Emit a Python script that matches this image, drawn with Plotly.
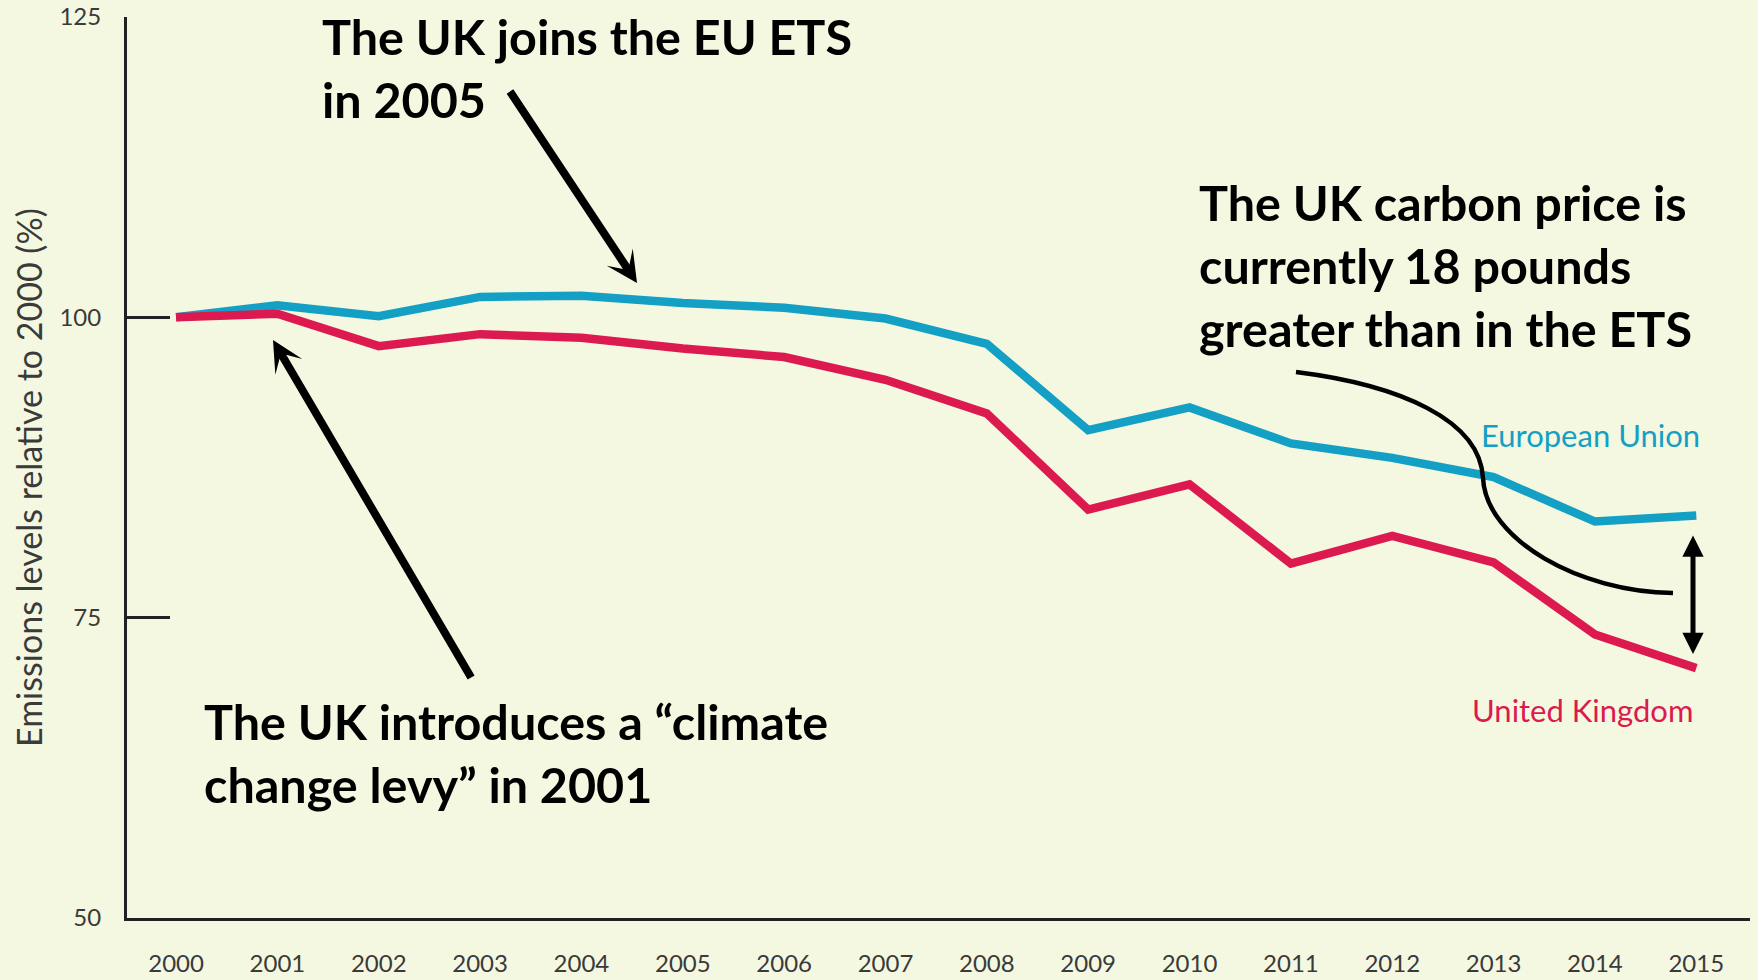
import plotly.graph_objects as go

years = list(range(2000, 2016))
eu_values = [100, 101.0, 100.1, 101.7, 101.8, 101.2, 100.8, 99.9, 97.8, 90.6, 92.5, 89.5, 88.3, 86.7, 83.0, 83.5]
uk_values = [100, 100.3, 97.6, 98.6, 98.3, 97.4, 96.7, 94.8, 92.0, 84.0, 86.1, 79.5, 81.8, 79.6, 73.6, 70.8]
y_ticks = [50, 75, 100, 125]
x_tick_labels = [str(y) for y in years]

BG = "#F4F8E1"
BLUE = "#14A0C4"
RED = "#DC1A4F"
AX = "#222222"

W, H = 1758, 980
L, R, T, B = 127, 8, 17, 62
X0, X1 = 1999.516, 2015.53
Y0, Y1 = 50, 125


def px2x(px):
    return X0 + (px - L) / (W - L - R) * (X1 - X0)


def px2y(py):
    return Y1 - (py - T) / (H - T - B) * (Y1 - Y0)


def px2paperx(px):
    return (px - L) / (W - L - R)


def px2papery(py):
    return (H - B - py) / (H - T - B)


fig = go.Figure()
fig.add_trace(go.Scatter(x=years, y=eu_values, mode="lines", name="European Union",
                         line=dict(color=BLUE, width=8.5), showlegend=False, hoverinfo="skip"))
fig.add_trace(go.Scatter(x=years, y=uk_values, mode="lines", name="United Kingdom",
                         line=dict(color=RED, width=8.5), showlegend=False, hoverinfo="skip"))

big = dict(family="Lato", size=48.5, color="black", weight=700)
ann = []
ann.append(dict(x=px2x(320), y=px2y(67), xref="x", yref="y", xanchor="left", yanchor="middle",
                text="The UK joins the EU ETS<br>in 2005", showarrow=False, align="left", font=big))
ann.append(dict(x=px2x(202), y=px2y(752), xref="x", yref="y", xanchor="left", yanchor="middle",
                text="The UK introduces a \u201cclimate<br>change levy\u201d in 2001", showarrow=False,
                align="left", font=big))
ann.append(dict(x=px2x(1197), y=px2y(265), xref="x", yref="y", xanchor="left", yanchor="middle",
                text="The UK carbon price is<br>currently 18 pounds<br>greater than in the ETS",
                showarrow=False, align="left", font=big))
ann.append(dict(x=px2x(1479), y=px2y(435), xref="x", yref="y", xanchor="left", yanchor="middle",
                text="European Union", showarrow=False, font=dict(family="Lato", size=31, color=BLUE)))
ann.append(dict(x=px2x(1470), y=px2y(710), xref="x", yref="y", xanchor="left", yanchor="middle",
                text="United Kingdom", showarrow=False, font=dict(family="Lato", size=31, color=RED)))
ann.append(dict(x=px2paperx(28), y=px2papery(478), xref="paper", yref="paper", xanchor="center",
                yanchor="middle", text="Emissions levels relative to 2000 (%)", textangle=-90,
                showarrow=False, font=dict(family="Lato", size=34, color="#3a3a3a")))

# arrows
ann.append(dict(x=px2x(637), y=px2y(283), ax=px2x(509), ay=px2y(90), xref="x", yref="y",
                axref="x", ayref="y", text="", showarrow=True, arrowhead=3, arrowsize=0.65,
                arrowwidth=8, arrowcolor="black"))
ann.append(dict(x=px2x(273), y=px2y(340), ax=px2x(472), ay=px2y(679), xref="x", yref="y",
                axref="x", ayref="y", text="", showarrow=True, arrowhead=3, arrowsize=0.65,
                arrowwidth=8, arrowcolor="black"))
ann.append(dict(x=px2x(1693), y=px2y(654), ax=px2x(1693), ay=px2y(534), xref="x", yref="y",
                axref="x", ayref="y", text="", showarrow=True, arrowhead=2, startarrowhead=2,
                arrowside="end+start", arrowsize=0.85, startarrowsize=0.85,
                arrowwidth=5, arrowcolor="black"))

pts = [(1296, 372), (1400, 385), (1480, 420), (1483, 478), (1486, 540), (1580, 592), (1673, 593)]
c = [(px2x(a), px2y(b)) for a, b in pts]
path = (f"M {c[0][0]},{c[0][1]} C {c[1][0]},{c[1][1]} {c[2][0]},{c[2][1]} {c[3][0]},{c[3][1]} "
        f"C {c[4][0]},{c[4][1]} {c[5][0]},{c[5][1]} {c[6][0]},{c[6][1]}")
fig.add_shape(type="path", path=path, xref="x", yref="y", line=dict(color="black", width=4.5))

fig.update_layout(
    width=W, height=H,
    margin=dict(l=L, r=R, t=T, b=B, pad=0, autoexpand=False),
    paper_bgcolor=BG, plot_bgcolor=BG,
    annotations=ann,
    xaxis=dict(range=[X0, X1], tickvals=years, ticktext=x_tick_labels, showgrid=False,
               zeroline=False, showline=True, linewidth=3, linecolor=AX, ticks="",
               automargin=False,
               tickfont=dict(family="Lato", size=24, color="#3a3a3a"), ticklabelstandoff=22),
    yaxis=dict(range=[Y0, Y1], tickvals=y_ticks, ticktext=[str(v) for v in y_ticks],
               showgrid=False, zeroline=False, showline=True, linewidth=3, linecolor=AX,
               ticks="inside", ticklen=43, tickwidth=3, tickcolor=AX, automargin=False,
               tickfont=dict(family="Lato", size=24, color="#3a3a3a"), ticklabelstandoff=18),
)

fig.write_html("out.html", config={"displayModeBar": False},
               post_script="document.body.style.margin='0';")
